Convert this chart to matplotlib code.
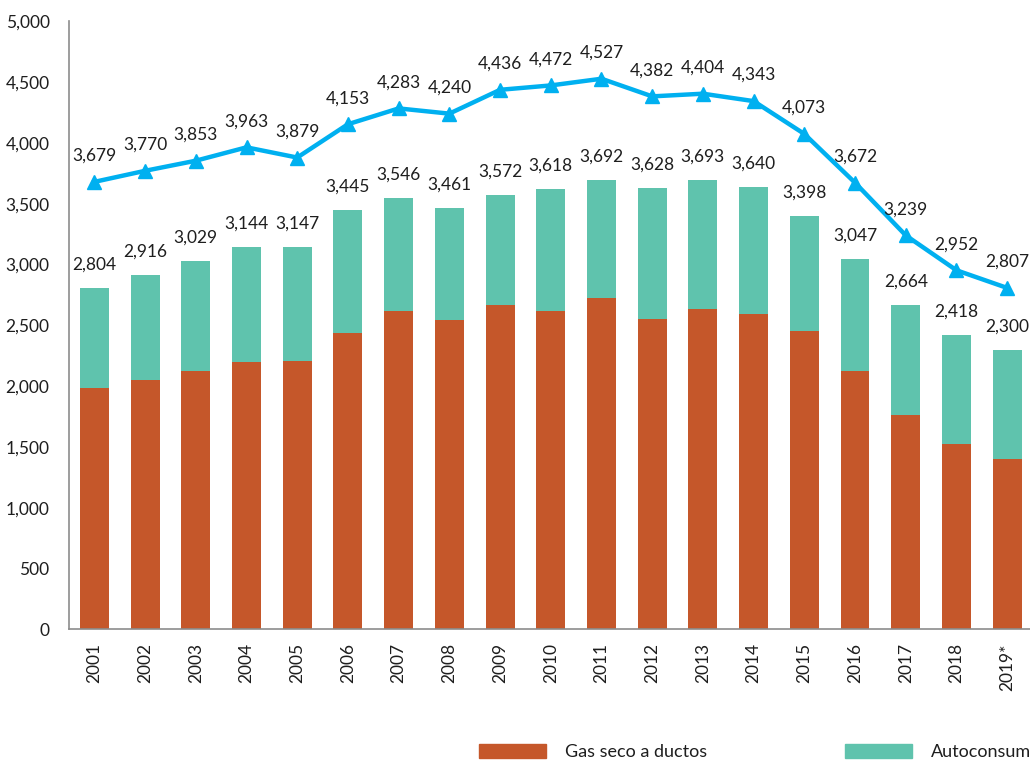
#!/usr/bin/python3
# -*- coding: utf-8 -*-

import matplotlib
matplotlib.use("Agg")
import matplotlib.pyplot as plt
from matplotlib.patches import Patch

plt.rcParams["font.family"] = ["Lato", "DejaVu Sans"]

# datos
years = ["2001", "2002", "2003", "2004", "2005", "2006", "2007", "2008", "2009", "2010",
         "2011", "2012", "2013", "2014", "2015", "2016", "2017", "2018", "2019*"]
# gas seco a ductos (estimado de la grafica)
gas_seco = [1985, 2051, 2128, 2194, 2208, 2433, 2620, 2540, 2669, 2620,
            2724, 2554, 2630, 2589, 2449, 2128, 1763, 1524, 1403]
# total de barras (etiquetas)
total_barras = [2804, 2916, 3029, 3144, 3147, 3445, 3546, 3461, 3572, 3618,
                3692, 3628, 3693, 3640, 3398, 3047, 2664, 2418, 2300]
autoconsumo = [t - g for t, g in zip(total_barras, gas_seco)]
# linea
linea = [3679, 3770, 3853, 3963, 3879, 4153, 4283, 4240, 4436, 4472,
         4527, 4382, 4404, 4343, 4073, 3672, 3239, 2952, 2807]

color_gas = "#C5572A"
color_auto = "#5FC3AD"
color_linea = "#00B0F0"
color_texto = "#1E1E1E"


def make_chart():
    fig = plt.figure(figsize=(10.30, 7.63), dpi=100)
    ax = fig.add_axes([0.067, 0.1752, 0.933, 0.797])

    x = range(len(years))
    ax.bar(x, gas_seco, width=0.57, color=color_gas, zorder=2)
    ax.bar(x, autoconsumo, width=0.57, bottom=gas_seco, color=color_auto, zorder=2)
    ax.plot(x, linea, color=color_linea, linewidth=3.2, marker="^", markersize=10,
            zorder=3)

    for i in x:
        ax.annotate("{:,}".format(total_barras[i]), (i, total_barras[i]),
                    xytext=(0, 11), textcoords="offset points", ha="center",
                    va="bottom", fontsize=12.5, color=color_texto)
        ax.annotate("{:,}".format(linea[i]), (i, linea[i]),
                    xytext=(0, 13), textcoords="offset points", ha="center",
                    va="bottom", fontsize=12.5, color=color_texto)

    ax.set_xlim(-0.5, 18.45)
    ax.set_ylim(0, 5000)
    ax.set_yticks(range(0, 5001, 500))
    ax.set_yticklabels(["{:,}".format(v) for v in range(0, 5001, 500)], fontsize=12.5,
                       color=color_texto)
    ax.set_xticks(list(x))
    ax.set_xticklabels(years, rotation=90, fontsize=12.5, color=color_texto)
    ax.tick_params(axis="y", length=0, pad=14)
    ax.tick_params(axis="x", length=0, pad=10)

    for s in ["top", "right"]:
        ax.spines[s].set_visible(False)
    for s in ["left", "bottom"]:
        ax.spines[s].set_color("#8C8C8C")
        ax.spines[s].set_linewidth(1.2)

    handles = [Patch(color=color_gas, label="Gas seco a ductos"),
               Patch(color=color_auto, label="Autoconsumo")]
    fig.legend(handles=handles, loc="center left", bbox_to_anchor=(0.449, 0.014),
               ncol=2, frameon=False, fontsize=13, handlelength=3.7,
               handleheight=0.75, handletextpad=1.1, columnspacing=7.6,
               labelcolor=color_texto)

    fig.savefig("out.png", dpi=100)


def main():
    make_chart()


if __name__ == '__main__':
    main()
